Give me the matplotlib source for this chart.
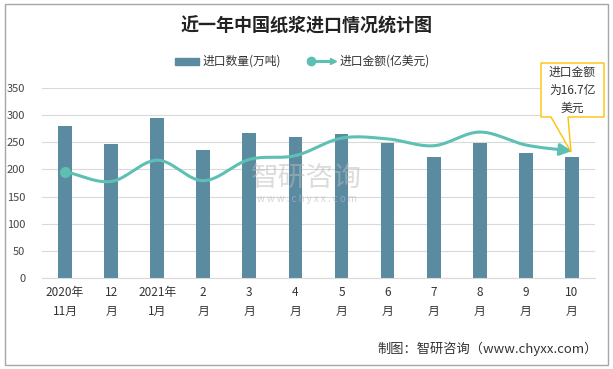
import numpy as np
import matplotlib
matplotlib.use("Agg")
import matplotlib.pyplot as plt
import matplotlib.patches as patches

plt.rcParams['font.family'] = ['Noto Sans CJK SC', 'DejaVu Sans']

# data
months = ['2020年\n11月', '12\n月', '2021年\n1月', '2\n月', '3\n月', '4\n月',
          '5\n月', '6\n月', '7\n月', '8\n月', '9\n月', '10\n月']
volume = [280, 247, 295, 236, 267, 260, 266, 249, 223, 249, 231, 223]   # 万吨
amount = [14.0, 12.7, 15.5, 12.8, 15.6, 16.1, 18.4, 18.3, 17.4, 19.2, 17.5, 16.7]  # 亿美元
yticks = [0, 50, 100, 150, 200, 250, 300, 350]

bar_color = '#5A8BA1'
line_color = '#5EC0B3'
W, H = 613, 369


def smooth(xs, ys, n=30):
    # catmull-rom style smoothing like excel's smoothed line
    xs = np.asarray(xs, float)
    ys = np.asarray(ys, float)
    px = np.concatenate([[2 * xs[0] - xs[1]], xs, [2 * xs[-1] - xs[-2]]])
    py = np.concatenate([[2 * ys[0] - ys[1]], ys, [2 * ys[-1] - ys[-2]]])
    ox, oy = [], []
    for i in range(1, len(px) - 2):
        t = np.linspace(0, 1, n, endpoint=False)
        for p, o in ((px, ox), (py, oy)):
            p0, p1, p2, p3 = p[i - 1], p[i], p[i + 1], p[i + 2]
            o.extend(0.5 * ((2 * p1) + (-p0 + p2) * t
                            + (2 * p0 - 5 * p1 + 4 * p2 - p3) * t ** 2
                            + (-p0 + 3 * p1 - 3 * p2 + p3) * t ** 3))
    ox.append(xs[-1])
    oy.append(ys[-1])
    return np.array(ox), np.array(oy)


def fp(x, y):
    # pixel position (from top-left) -> figure coords
    return (x / W, 1 - y / H)


fig = plt.figure(figsize=(6.13, 3.69), dpi=100)
fig.patches.append(patches.Rectangle((0.008, 0.012), 0.984, 0.976, transform=fig.transFigure,
                                     fill=False, edgecolor='#A6A6A6', linewidth=1))

ax = fig.add_axes([0.0685, 0.2466, 0.902, 0.515])
x = np.arange(len(months))
ax.bar(x, volume, width=0.3, color=bar_color, zorder=2, label='进口数量(万吨)')
ax.set_xlim(-0.5, len(months) - 0.5)
ax.set_ylim(0, 350)
ax.set_yticks(yticks)
ax.set_xticks(x)
ax.set_xticklabels(months, fontsize=8.5, color='#333333', linespacing=1.6)
ax.tick_params(axis='y', labelsize=8, colors='#444444', length=0, pad=12)
ax.tick_params(axis='x', length=0, pad=6)
ax.grid(axis='y', color='#D9D9D9', linewidth=0.8, zorder=0)
for s in ['top', 'right', 'left']:
    ax.spines[s].set_visible(False)
ax.spines['bottom'].set_color('#D9D9D9')

# line on hidden secondary scale
ax2 = ax.twinx()
ax2.set_ylim(0, 25)
ax2.axis('off')
sx, sy = smooth(x, amount)
ax2.plot(sx[:-6], sy[:-6], color=line_color, linewidth=2.2, zorder=3, solid_capstyle='round')
ax2.annotate('', xy=(sx[-1], sy[-1]), xytext=(sx[-7], sy[-7]),
             arrowprops=dict(arrowstyle='-|>,head_length=0.7,head_width=0.35',
                             color=line_color, lw=2.2, shrinkA=0, shrinkB=0))
ax2.plot(x[0], amount[0], 'o', color=line_color, markersize=7, zorder=4)

# callout box with pointer
pts = [fp(541, 63), fp(604, 63), fp(604, 117), fp(568, 117), fp(571, 152),
       fp(551, 117), fp(541, 117)]
fig.patches.append(patches.Polygon(pts, closed=True, transform=fig.transFigure,
                                   facecolor='white', edgecolor='#FFC000', lw=1, zorder=6))
fig.text(*fp(572.5, 90), '进口金额\n为16.7亿\n美元', fontsize=8.5, color='#333333',
         ha='center', va='center', linespacing=1.5, zorder=7)

# legend
fig.patches.append(patches.Rectangle(fp(175, 65), 24 / W, 7 / H,
                                     transform=fig.transFigure, color=bar_color))
fig.text(*fp(203, 61), '进口数量(万吨)', fontsize=8.5, color='#333333', va='center')
fig.lines.append(plt.Line2D([310 / W, 330 / W], [1 - 61 / H] * 2, color=line_color,
                            lw=2.2, transform=fig.transFigure))
fig.lines.append(plt.Line2D([311 / W], [1 - 61 / H], marker='o', color=line_color,
                            markersize=6, transform=fig.transFigure))
fig.lines.append(plt.Line2D([333 / W], [1 - 61 / H], marker='>', color=line_color,
                            markersize=5, transform=fig.transFigure))
fig.text(*fp(340, 61), '进口金额(亿美元)', fontsize=8.5, color='#333333', va='center')

# title
fig.text(*fp(W / 2, 26), '近一年中国纸浆进口情况统计图', fontsize=13, fontweight='bold',
         color='#222222', ha='center', va='center')

# watermark
fig.text(*fp(W / 2, 178), '智研咨询', fontsize=20, color='#BBBBBB', alpha=0.5,
         ha='center', va='center')
fig.text(*fp(W / 2, 199), 'w w w . c h y x x . c o m', fontsize=7, color='#BBBBBB',
         alpha=0.6, ha='center', va='center')

# footer
fig.text(*fp(598, 349), '制图：智研咨询（www.chyxx.com）', fontsize=9.5,
         color='#333333', ha='right', va='center')

fig.savefig('out.png', dpi=100)
